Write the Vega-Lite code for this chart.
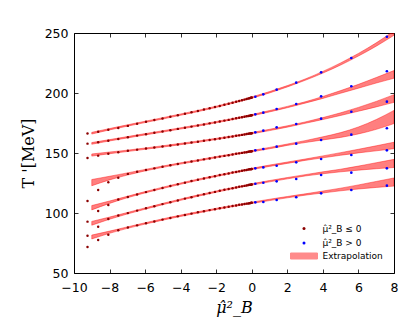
{
  "$schema": "https://vega.github.io/schema/vega-lite/v6.json",
  "width": 320,
  "height": 240,
  "autosize": {"type": "none"},
  "padding": {"left": 74, "top": 33, "right": 21, "bottom": 50},
  "background": "white",
  "config": {
    "view": {"stroke": "black", "strokeWidth": 1},
    "axis": {"domain": false, "grid": false, "tickColor": "black", "tickWidth": 0.8, "tickSize": -4, "labelFont": "DejaVu Sans", "labelFontSize": 12.5, "labelColor": "black", "titleColor": "black", "titleFontWeight": "normal"}
  },
  "datasets": {
    "band": [
      {"c":1,"x":-9,"lo":165.8,"hi":167.2},{"c":1,"x":-8,"lo":169.25,"hi":170.35},{"c":1,"x":-7,"lo":172.35,"hi":173.45},{"c":1,"x":-6,"lo":175.35,"hi":176.45},{"c":1,"x":-5,"lo":178.35,"hi":179.45},{"c":1,"x":-4,"lo":181.45,"hi":182.55},{"c":1,"x":-3,"lo":184.55,"hi":185.65},{"c":1,"x":-2,"lo":187.95,"hi":189.05},{"c":1,"x":-1,"lo":191.65,"hi":192.75},{"c":1,"x":0,"lo":195.65,"hi":196.75},{"c":1,"x":1,"lo":200.05,"hi":201.15},{"c":1,"x":2,"lo":205.05,"hi":206.15},{"c":1,"x":3,"lo":210.55,"hi":211.65},{"c":1,"x":4,"lo":216.6,"hi":218.0},{"c":1,"x":5,"lo":223.3,"hi":225.1},{"c":1,"x":6,"lo":230.8,"hi":233.0},{"c":1,"x":7,"lo":239.0,"hi":241.8},{"c":1,"x":8,"lo":248.1,"hi":251.7},
      {"c":2,"x":-9,"lo":157.3,"hi":158.7},{"c":2,"x":-8,"lo":160.05,"hi":161.15},{"c":2,"x":-7,"lo":162.55,"hi":163.65},{"c":2,"x":-6,"lo":165.05,"hi":166.15},{"c":2,"x":-5,"lo":167.45,"hi":168.55},{"c":2,"x":-4,"lo":169.95,"hi":171.05},{"c":2,"x":-3,"lo":172.45,"hi":173.55},{"c":2,"x":-2,"lo":175.15,"hi":176.25},{"c":2,"x":-1,"lo":177.95,"hi":179.05},{"c":2,"x":0,"lo":180.95,"hi":182.05},{"c":2,"x":1,"lo":184.25,"hi":185.35},{"c":2,"x":2,"lo":187.75,"hi":188.85},{"c":2,"x":3,"lo":191.55,"hi":192.65},{"c":2,"x":4,"lo":195.5,"hi":197.1},{"c":2,"x":5,"lo":199.8,"hi":202.0},{"c":2,"x":6,"lo":204.0,"hi":207.2},{"c":2,"x":7,"lo":208.3,"hi":212.9},{"c":2,"x":8,"lo":212.3,"hi":218.7},
      {"c":3,"x":-9,"lo":147.4,"hi":149.2},{"c":3,"x":-8,"lo":149.4,"hi":150.8},{"c":3,"x":-7,"lo":151.25,"hi":152.35},{"c":3,"x":-6,"lo":153.05,"hi":154.15},{"c":3,"x":-5,"lo":154.95,"hi":156.05},{"c":3,"x":-4,"lo":156.95,"hi":158.05},{"c":3,"x":-3,"lo":158.95,"hi":160.05},{"c":3,"x":-2,"lo":161.15,"hi":162.25},{"c":3,"x":-1,"lo":163.45,"hi":164.55},{"c":3,"x":0,"lo":165.95,"hi":167.05},{"c":3,"x":1,"lo":168.65,"hi":169.75},{"c":3,"x":2,"lo":171.55,"hi":172.65},{"c":3,"x":3,"lo":174.75,"hi":175.85},{"c":3,"x":4,"lo":177.9,"hi":179.5},{"c":3,"x":5,"lo":181.3,"hi":183.5},{"c":3,"x":6,"lo":184.8,"hi":188.0},{"c":3,"x":7,"lo":188.4,"hi":193.0},{"c":3,"x":8,"lo":192.2,"hi":198.6},
      {"c":4,"x":-9,"lo":122.7,"hi":127.9},{"c":4,"x":-8,"lo":127.6,"hi":130.6},{"c":4,"x":-7,"lo":131.6,"hi":133.4},{"c":4,"x":-6,"lo":135.1,"hi":136.3},{"c":4,"x":-5,"lo":138.05,"hi":139.15},{"c":4,"x":-4,"lo":140.75,"hi":141.85},{"c":4,"x":-3,"lo":143.35,"hi":144.45},{"c":4,"x":-2,"lo":145.95,"hi":147.05},{"c":4,"x":-1,"lo":148.45,"hi":149.55},{"c":4,"x":0,"lo":150.95,"hi":152.05},{"c":4,"x":1,"lo":153.55,"hi":154.65},{"c":4,"x":2,"lo":156.35,"hi":157.45},{"c":4,"x":3,"lo":158.7,"hi":160.3},{"c":4,"x":4,"lo":160.9,"hi":163.5},{"c":4,"x":5,"lo":163.0,"hi":167.0},{"c":4,"x":6,"lo":165.9,"hi":171.7},{"c":4,"x":7,"lo":169.7,"hi":177.9},{"c":4,"x":8,"lo":174.5,"hi":185.5},
      {"c":5,"x":-9,"lo":102.6,"hi":106.2},{"c":5,"x":-8,"lo":108.0,"hi":110.0},{"c":5,"x":-7,"lo":112.7,"hi":113.9},{"c":5,"x":-6,"lo":116.75,"hi":117.85},{"c":5,"x":-5,"lo":120.45,"hi":121.55},{"c":5,"x":-4,"lo":123.95,"hi":125.05},{"c":5,"x":-3,"lo":127.25,"hi":128.35},{"c":5,"x":-2,"lo":130.35,"hi":131.45},{"c":5,"x":-1,"lo":133.35,"hi":134.45},{"c":5,"x":0,"lo":136.15,"hi":137.25},{"c":5,"x":1,"lo":138.85,"hi":139.95},{"c":5,"x":2,"lo":141.35,"hi":142.45},{"c":5,"x":3,"lo":143.85,"hi":144.95},{"c":5,"x":4,"lo":146.0,"hi":147.6},{"c":5,"x":5,"lo":148.1,"hi":150.3},{"c":5,"x":6,"lo":150.1,"hi":153.1},{"c":5,"x":7,"lo":151.8,"hi":156.0},{"c":5,"x":8,"lo":153.6,"hi":159.0},
      {"c":6,"x":-9,"lo":89.8,"hi":93.0},{"c":6,"x":-8,"lo":94.8,"hi":96.6},{"c":6,"x":-7,"lo":99.2,"hi":100.4},{"c":6,"x":-6,"lo":103.15,"hi":104.25},{"c":6,"x":-5,"lo":106.95,"hi":108.05},{"c":6,"x":-4,"lo":110.55,"hi":111.65},{"c":6,"x":-3,"lo":114.05,"hi":115.15},{"c":6,"x":-2,"lo":117.25,"hi":118.35},{"c":6,"x":-1,"lo":120.35,"hi":121.45},{"c":6,"x":0,"lo":123.25,"hi":124.35},{"c":6,"x":1,"lo":125.95,"hi":127.05},{"c":6,"x":2,"lo":128.45,"hi":129.55},{"c":6,"x":3,"lo":130.85,"hi":131.95},{"c":6,"x":4,"lo":132.7,"hi":134.3},{"c":6,"x":5,"lo":134.3,"hi":136.5},{"c":6,"x":6,"lo":135.7,"hi":139.1},{"c":6,"x":7,"lo":136.9,"hi":141.9},{"c":6,"x":8,"lo":137.9,"hi":144.7},
      {"c":7,"x":-9,"lo":78.4,"hi":81.6},{"c":7,"x":-8,"lo":83.1,"hi":84.9},{"c":7,"x":-7,"lo":87.2,"hi":88.4},{"c":7,"x":-6,"lo":90.75,"hi":91.85},{"c":7,"x":-5,"lo":94.05,"hi":95.15},{"c":7,"x":-4,"lo":97.15,"hi":98.25},{"c":7,"x":-3,"lo":100.05,"hi":101.15},{"c":7,"x":-2,"lo":102.85,"hi":103.95},{"c":7,"x":-1,"lo":105.45,"hi":106.55},{"c":7,"x":0,"lo":107.95,"hi":109.05},{"c":7,"x":1,"lo":110.35,"hi":111.45},{"c":7,"x":2,"lo":112.65,"hi":113.75},{"c":7,"x":3,"lo":114.85,"hi":115.95},{"c":7,"x":4,"lo":116.7,"hi":118.3},{"c":7,"x":5,"lo":118.5,"hi":120.7},{"c":7,"x":6,"lo":120.0,"hi":123.4},{"c":7,"x":7,"lo":121.3,"hi":126.3},{"c":7,"x":8,"lo":122.4,"hi":129.2}
    ],
    "neg": [
      {"c":1,"x":-9.24,"T":166.2},{"c":1,"x":-8.64,"T":167.7},{"c":1,"x":-8.07,"T":169.3},{"c":1,"x":-7.51,"T":170.9},{"c":1,"x":-6.97,"T":172.6},{"c":1,"x":-6.45,"T":174.4},{"c":1,"x":-5.95,"T":176.1},{"c":1,"x":-5.48,"T":177.5},{"c":1,"x":-5.02,"T":178.8},{"c":1,"x":-4.58,"T":180.2},{"c":1,"x":-4.16,"T":181.5},{"c":1,"x":-3.76,"T":182.7},{"c":1,"x":-3.39,"T":183.9},{"c":1,"x":-3.03,"T":185.0},{"c":1,"x":-2.69,"T":186.2},{"c":1,"x":-2.37,"T":187.3},{"c":1,"x":-2.07,"T":188.3},{"c":1,"x":-1.8,"T":189.2},{"c":1,"x":-1.54,"T":190.2},{"c":1,"x":-1.3,"T":191.1},{"c":1,"x":-1.08,"T":191.9},{"c":1,"x":-0.88,"T":192.7},{"c":1,"x":-0.71,"T":193.3},{"c":1,"x":-0.55,"T":193.9},{"c":1,"x":-0.41,"T":194.5},{"c":1,"x":-0.29,"T":195.0},{"c":1,"x":-0.19,"T":195.4},{"c":1,"x":-0.12,"T":195.7},{"c":1,"x":-0.06,"T":196.0},{"c":1,"x":-0.02,"T":196.1},{"c":1,"x":0,"T":196.2},
      {"c":2,"x":-9.24,"T":157.8},{"c":2,"x":-8.64,"T":158.9},{"c":2,"x":-8.07,"T":160.2},{"c":2,"x":-7.51,"T":161.6},{"c":2,"x":-6.97,"T":163.2},{"c":2,"x":-6.45,"T":164.5},{"c":2,"x":-5.95,"T":165.7},{"c":2,"x":-5.48,"T":166.8},{"c":2,"x":-5.02,"T":168.0},{"c":2,"x":-4.58,"T":169.0},{"c":2,"x":-4.16,"T":170.1},{"c":2,"x":-3.76,"T":171.1},{"c":2,"x":-3.39,"T":172.0},{"c":2,"x":-3.03,"T":172.9},{"c":2,"x":-2.69,"T":173.8},{"c":2,"x":-2.37,"T":174.7},{"c":2,"x":-2.07,"T":175.5},{"c":2,"x":-1.8,"T":176.2},{"c":2,"x":-1.54,"T":177.0},{"c":2,"x":-1.3,"T":177.6},{"c":2,"x":-1.08,"T":178.3},{"c":2,"x":-0.88,"T":178.9},{"c":2,"x":-0.71,"T":179.4},{"c":2,"x":-0.55,"T":179.8},{"c":2,"x":-0.41,"T":180.2},{"c":2,"x":-0.29,"T":180.6},{"c":2,"x":-0.19,"T":180.9},{"c":2,"x":-0.12,"T":181.1},{"c":2,"x":-0.06,"T":181.3},{"c":2,"x":-0.02,"T":181.4},{"c":2,"x":0,"T":181.5},
      {"c":3,"x":-9.24,"T":145.8},{"c":3,"x":-8.64,"T":147.8},{"c":3,"x":-8.07,"T":149.3},{"c":3,"x":-7.51,"T":150.7},{"c":3,"x":-6.97,"T":151.9},{"c":3,"x":-6.45,"T":152.8},{"c":3,"x":-5.95,"T":153.7},{"c":3,"x":-5.48,"T":154.6},{"c":3,"x":-5.02,"T":155.5},{"c":3,"x":-4.58,"T":156.3},{"c":3,"x":-4.16,"T":157.1},{"c":3,"x":-3.76,"T":157.9},{"c":3,"x":-3.39,"T":158.7},{"c":3,"x":-3.03,"T":159.4},{"c":3,"x":-2.69,"T":160.2},{"c":3,"x":-2.37,"T":160.9},{"c":3,"x":-2.07,"T":161.5},{"c":3,"x":-1.8,"T":162.1},{"c":3,"x":-1.54,"T":162.7},{"c":3,"x":-1.3,"T":163.3},{"c":3,"x":-1.08,"T":163.8},{"c":3,"x":-0.88,"T":164.3},{"c":3,"x":-0.71,"T":164.7},{"c":3,"x":-0.55,"T":165.1},{"c":3,"x":-0.41,"T":165.5},{"c":3,"x":-0.29,"T":165.8},{"c":3,"x":-0.19,"T":166.0},{"c":3,"x":-0.12,"T":166.2},{"c":3,"x":-0.06,"T":166.3},{"c":3,"x":-0.02,"T":166.5},{"c":3,"x":0,"T":166.5},
      {"c":4,"x":-9.24,"T":110.0},{"c":4,"x":-8.64,"T":119.2},{"c":4,"x":-8.07,"T":125.6},{"c":4,"x":-7.51,"T":129.4},{"c":4,"x":-6.97,"T":132.6},{"c":4,"x":-6.45,"T":134.3},{"c":4,"x":-5.95,"T":135.8},{"c":4,"x":-5.48,"T":137.2},{"c":4,"x":-5.02,"T":138.5},{"c":4,"x":-4.58,"T":139.8},{"c":4,"x":-4.16,"T":140.9},{"c":4,"x":-3.76,"T":142.0},{"c":4,"x":-3.39,"T":142.9},{"c":4,"x":-3.03,"T":143.8},{"c":4,"x":-2.69,"T":144.7},{"c":4,"x":-2.37,"T":145.5},{"c":4,"x":-2.07,"T":146.3},{"c":4,"x":-1.8,"T":147.0},{"c":4,"x":-1.54,"T":147.6},{"c":4,"x":-1.3,"T":148.2},{"c":4,"x":-1.08,"T":148.8},{"c":4,"x":-0.88,"T":149.3},{"c":4,"x":-0.71,"T":149.7},{"c":4,"x":-0.55,"T":150.1},{"c":4,"x":-0.41,"T":150.4},{"c":4,"x":-0.29,"T":150.7},{"c":4,"x":-0.19,"T":151.0},{"c":4,"x":-0.12,"T":151.2},{"c":4,"x":-0.06,"T":151.3},{"c":4,"x":-0.02,"T":151.4},{"c":4,"x":0,"T":151.5},
      {"c":5,"x":-9.24,"T":92.8},{"c":5,"x":-8.64,"T":101.7},{"c":5,"x":-8.07,"T":106.7},{"c":5,"x":-7.51,"T":111.3},{"c":5,"x":-6.97,"T":113.4},{"c":5,"x":-6.45,"T":115.5},{"c":5,"x":-5.95,"T":117.4},{"c":5,"x":-5.48,"T":119.2},{"c":5,"x":-5.02,"T":120.9},{"c":5,"x":-4.58,"T":122.5},{"c":5,"x":-4.16,"T":124.0},{"c":5,"x":-3.76,"T":125.3},{"c":5,"x":-3.39,"T":126.6},{"c":5,"x":-3.03,"T":127.7},{"c":5,"x":-2.69,"T":128.8},{"c":5,"x":-2.37,"T":129.8},{"c":5,"x":-2.07,"T":130.7},{"c":5,"x":-1.8,"T":131.6},{"c":5,"x":-1.54,"T":132.3},{"c":5,"x":-1.3,"T":133.0},{"c":5,"x":-1.08,"T":133.7},{"c":5,"x":-0.88,"T":134.2},{"c":5,"x":-0.71,"T":134.7},{"c":5,"x":-0.55,"T":135.2},{"c":5,"x":-0.41,"T":135.6},{"c":5,"x":-0.29,"T":135.9},{"c":5,"x":-0.19,"T":136.2},{"c":5,"x":-0.12,"T":136.4},{"c":5,"x":-0.06,"T":136.5},{"c":5,"x":-0.02,"T":136.6},{"c":5,"x":0,"T":136.7},
      {"c":6,"x":-9.24,"T":81.1},{"c":6,"x":-8.64,"T":88.6},{"c":6,"x":-8.07,"T":95.0},{"c":6,"x":-7.51,"T":97.9},{"c":6,"x":-6.97,"T":99.9},{"c":6,"x":-6.45,"T":102.0},{"c":6,"x":-5.95,"T":103.9},{"c":6,"x":-5.48,"T":105.7},{"c":6,"x":-5.02,"T":107.4},{"c":6,"x":-4.58,"T":109.0},{"c":6,"x":-4.16,"T":110.5},{"c":6,"x":-3.76,"T":112.0},{"c":6,"x":-3.39,"T":113.2},{"c":6,"x":-3.03,"T":114.5},{"c":6,"x":-2.69,"T":115.6},{"c":6,"x":-2.37,"T":116.6},{"c":6,"x":-2.07,"T":117.6},{"c":6,"x":-1.8,"T":118.5},{"c":6,"x":-1.54,"T":119.3},{"c":6,"x":-1.3,"T":120.0},{"c":6,"x":-1.08,"T":120.7},{"c":6,"x":-0.88,"T":121.3},{"c":6,"x":-0.71,"T":121.8},{"c":6,"x":-0.55,"T":122.2},{"c":6,"x":-0.41,"T":122.6},{"c":6,"x":-0.29,"T":123.0},{"c":6,"x":-0.19,"T":123.3},{"c":6,"x":-0.12,"T":123.5},{"c":6,"x":-0.06,"T":123.6},{"c":6,"x":-0.02,"T":123.7},{"c":6,"x":0,"T":123.8},
      {"c":7,"x":-9.24,"T":71.7},{"c":7,"x":-8.64,"T":77.5},{"c":7,"x":-8.07,"T":81.9},{"c":7,"x":-7.51,"T":85.7},{"c":7,"x":-6.97,"T":87.9},{"c":7,"x":-6.45,"T":89.7},{"c":7,"x":-5.95,"T":91.5},{"c":7,"x":-5.48,"T":93.0},{"c":7,"x":-5.02,"T":94.5},{"c":7,"x":-4.58,"T":95.9},{"c":7,"x":-4.16,"T":97.2},{"c":7,"x":-3.76,"T":98.4},{"c":7,"x":-3.39,"T":99.5},{"c":7,"x":-3.03,"T":100.6},{"c":7,"x":-2.69,"T":101.5},{"c":7,"x":-2.37,"T":102.4},{"c":7,"x":-2.07,"T":103.2},{"c":7,"x":-1.8,"T":103.9},{"c":7,"x":-1.54,"T":104.6},{"c":7,"x":-1.3,"T":105.2},{"c":7,"x":-1.08,"T":105.8},{"c":7,"x":-0.88,"T":106.3},{"c":7,"x":-0.71,"T":106.8},{"c":7,"x":-0.55,"T":107.1},{"c":7,"x":-0.41,"T":107.5},{"c":7,"x":-0.29,"T":107.8},{"c":7,"x":-0.19,"T":108.0},{"c":7,"x":-0.12,"T":108.2},{"c":7,"x":-0.06,"T":108.4},{"c":7,"x":-0.02,"T":108.5},{"c":7,"x":0,"T":108.5}
    ],
    "pos": [
      {"c":1,"x":0.2,"T":196.9},{"c":1,"x":0.65,"T":198.9},{"c":1,"x":1.4,"T":202.8},{"c":1,"x":2.5,"T":208.6},{"c":1,"x":3.9,"T":217.2},{"c":1,"x":5.6,"T":229.2},{"c":1,"x":7.6,"T":246.9},
      {"c":2,"x":0.2,"T":182.2},{"c":2,"x":0.65,"T":183.6},{"c":2,"x":1.4,"T":186.7},{"c":2,"x":2.5,"T":190.8},{"c":2,"x":3.9,"T":197.2},{"c":2,"x":5.6,"T":205.6},{"c":2,"x":7.6,"T":218.1},
      {"c":3,"x":0.2,"T":167.2},{"c":3,"x":0.65,"T":168.6},{"c":3,"x":1.4,"T":171.4},{"c":3,"x":2.5,"T":174.2},{"c":3,"x":3.9,"T":178.6},{"c":3,"x":5.6,"T":184.4},{"c":3,"x":7.6,"T":192.8},
      {"c":4,"x":0.2,"T":152.2},{"c":4,"x":0.65,"T":153.3},{"c":4,"x":1.4,"T":155.3},{"c":4,"x":2.5,"T":157.8},{"c":4,"x":3.9,"T":160.8},{"c":4,"x":5.6,"T":165.3},{"c":4,"x":7.6,"T":170.6},
      {"c":5,"x":0.2,"T":137.2},{"c":5,"x":0.65,"T":138.0},{"c":5,"x":1.4,"T":139.4},{"c":5,"x":2.5,"T":142.2},{"c":5,"x":3.9,"T":145.0},{"c":5,"x":5.6,"T":148.3},{"c":5,"x":7.6,"T":152.2},
      {"c":6,"x":0.2,"T":124.4},{"c":6,"x":0.65,"T":125.2},{"c":6,"x":1.4,"T":126.4},{"c":6,"x":2.5,"T":128.3},{"c":6,"x":3.9,"T":131.7},{"c":6,"x":5.6,"T":133.6},{"c":6,"x":7.6,"T":137.2},
      {"c":7,"x":0.2,"T":108.9},{"c":7,"x":0.65,"T":109.2},{"c":7,"x":1.4,"T":110.8},{"c":7,"x":2.5,"T":113.1},{"c":7,"x":3.9,"T":116.4},{"c":7,"x":5.6,"T":119.2},{"c":7,"x":7.6,"T":122.8}
    ]
  },
  "resolve": {"axis": {"x": "independent", "y": "independent"}},
  "layer": [
    {
      "data": {"name": "band"},
      "mark": {"type": "area", "interpolate": "monotone", "clip": true, "fillOpacity": 0.5, "stroke": "#ff0000", "strokeWidth": 0.6, "strokeOpacity": 0.7},
      "encoding": {
        "x": {"field": "x", "type": "quantitative", "scale": {"domain": [-10, 8], "nice": false, "zero": false},
          "axis": {"orient": "bottom", "values": [-10, -8, -6, -4, -2, 0, 2, 4, 6, 8], "labelPadding": 12, "labelFlush": false, "labelOverlap": false, "title": "μ̂²_B", "titleFont": "DejaVu Serif", "titleFontSize": 16, "titleFontStyle": "italic", "titlePadding": 6}},
        "y": {"field": "lo", "type": "quantitative", "scale": {"domain": [50, 250], "nice": false, "zero": false},
          "axis": {"orient": "left", "values": [50, 100, 150, 200, 250], "labelPadding": 10, "labelFlush": false, "labelOverlap": false, "title": "T '[MeV]", "titleFont": "DejaVu Serif", "titleFontSize": 16, "titlePadding": 8}},
        "y2": {"field": "hi"},
        "detail": {"field": "c"},
        "fill": {
          "datum": "Extrapolation",
          "scale": {"domain": ["Extrapolation"], "range": ["#ff0000"]},
          "legend": {
            "title": null, "orient": "none", "legendX": 225.5, "legendY": 218.5, "padding": 0,
            "symbolType": "M-9,-2H9V2H-9Z", "symbolSize": 9, "symbolOpacity": 0.45, "symbolStrokeColor": "#ff0000", "symbolStrokeWidth": 1,
            "labelFont": "DejaVu Sans", "labelFontSize": 9, "labelColor": "black", "labelOffset": 14
          }
        }
      }
    },
    {
      "data": {"name": "neg"},
      "mark": {"type": "point", "filled": true, "size": 6, "opacity": 1},
      "encoding": {
        "x": {"field": "x", "type": "quantitative", "axis": {"orient": "top", "values": [-10, -8, -6, -4, -2, 0, 2, 4, 6, 8], "labels": false, "title": null}},
        "y": {"field": "T", "type": "quantitative", "axis": {"orient": "right", "values": [50, 100, 150, 200, 250], "labels": false, "title": null}},
        "color": {
          "datum": "μ̂²_B ≤ 0",
          "scale": {"domain": ["μ̂²_B ≤ 0", "μ̂²_B > 0"], "range": ["#8b0000", "#0000ff"]},
          "legend": {
            "title": null, "orient": "none", "legendX": 225.5, "legendY": 191, "padding": 0,
            "symbolType": "circle", "symbolSize": 9, "symbolStrokeWidth": 0,
            "labelFont": "DejaVu Sans", "labelFontSize": 9, "labelColor": "black", "labelOffset": 14, "rowPadding": 4.4
          }
        }
      }
    },
    {
      "data": {"name": "pos"},
      "mark": {"type": "point", "filled": true, "size": 7, "opacity": 1},
      "encoding": {
        "x": {"field": "x", "type": "quantitative", "axis": null},
        "y": {"field": "T", "type": "quantitative", "axis": null},
        "color": {"datum": "μ̂²_B > 0"}
      }
    }
  ]
}
